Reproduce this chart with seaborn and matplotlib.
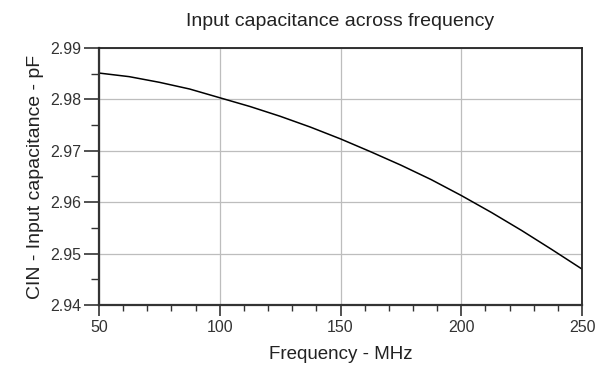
import matplotlib
matplotlib.use('Agg')
import matplotlib.pyplot as plt
import seaborn as sns
import pandas as pd
from matplotlib.ticker import MultipleLocator

# Data
freq_mhz = [50, 62.5, 75, 87.5, 100, 112.5, 125, 137.5, 150,
            162.5, 175, 187.5, 200, 212.5, 225, 237.5, 250]
cin_pf = [2.9851, 2.9844, 2.9833, 2.9820, 2.9803, 2.9786, 2.9767, 2.9746, 2.9723,
          2.9698, 2.9672, 2.9644, 2.9613, 2.9580, 2.9545, 2.9508, 2.9470]

df = pd.DataFrame({'freq': freq_mhz, 'cin': cin_pf})

sns.set_style('white')
plt.rcParams['font.family'] = ['Liberation Sans', 'DejaVu Sans']

fig = plt.figure(figsize=(6, 3.68), dpi=100)
ax = fig.add_axes([0.165, 0.171, 0.805, 0.699])

sns.lineplot(data=df, x='freq', y='cin', ax=ax, color='black', linewidth=1.1)

ax.set_xlim(50, 250)
ax.set_ylim(2.94, 2.99)
ax.xaxis.set_major_locator(MultipleLocator(50))
ax.xaxis.set_minor_locator(MultipleLocator(10))
ax.yaxis.set_major_locator(MultipleLocator(0.01))
ax.yaxis.set_minor_locator(MultipleLocator(0.005))
ax.set_yticklabels([f'{v:.2f}' for v in ax.get_yticks()])

ax.grid(True, which='major', color='#bdbdbd', linewidth=0.9)
ax.tick_params(axis='x', which='major', direction='out', length=8, width=1.2,
               color='#333333', labelsize=11.5, labelcolor='#333333', pad=3)
ax.tick_params(axis='x', which='minor', direction='out', length=4.5, width=1.0,
               color='#333333')
ax.tick_params(axis='y', which='major', direction='out', length=11, width=1.2,
               color='#333333', labelsize=11.5, labelcolor='#333333', pad=1.5)
ax.tick_params(axis='y', which='minor', direction='out', length=5.5, width=1.0,
               color='#333333')
ax.tick_params(bottom=True, left=True, which='both')

for side in ['left', 'bottom']:
    ax.spines[side].set_linewidth(1.6)
    ax.spines[side].set_color('#333333')
for side in ['top', 'right']:
    ax.spines[side].set_linewidth(1.3)
    ax.spines[side].set_color('#222222')

ax.set_title('Input capacitance across frequency', fontsize=14, color='#222222', pad=16)
ax.set_xlabel('Frequency - MHz', fontsize=13.5, color='#222222', labelpad=8)
ax.set_ylabel('CIN - Input capacitance - pF', fontsize=14, color='#222222', labelpad=5)

fig.savefig('out.png', dpi=100)
plt.close(fig)
